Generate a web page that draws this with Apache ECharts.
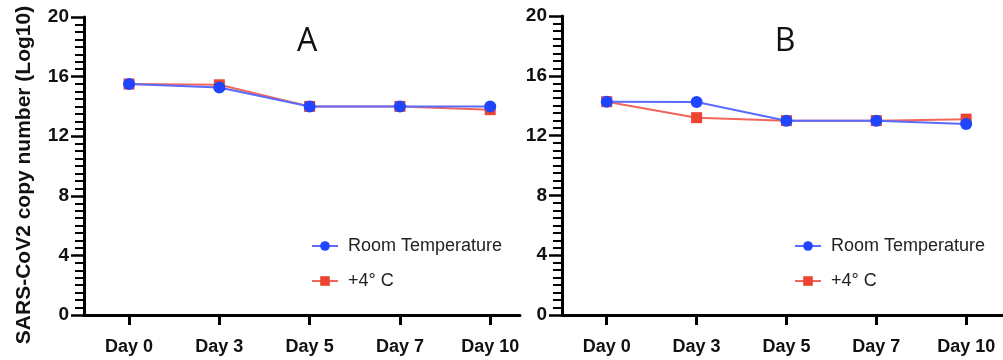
<!DOCTYPE html>
<html>
<head>
<meta charset="utf-8">
<script src="https://cdn.jsdelivr.net/npm/echarts@6/dist/echarts.min.js"></script>
<style>
html,body{margin:0;padding:0;background:#fff;}
#c{width:1003px;height:360px;}
</style>
</head>
<body>
<div id="c"></div>
<script>
const days = ['Day 0', 'Day 3', 'Day 5', 'Day 7', 'Day 10'];
const yTicks = [0, 4, 8, 12, 16, 20];
const roomA = [15.5, 15.27, 14.0, 14.0, 14.0];
const coldA = [15.5, 15.45, 14.0, 14.0, 13.78];
const roomB = [14.27, 14.25, 13.0, 13.0, 12.78];
const coldB = [14.27, 13.2, 13.0, 13.0, 13.1];
const panelTitles = ['A', 'B'];
const yTitle = 'SARS-CoV2 copy number (Log10)';
const legendNames = ['Room Temperature', '+4° C'];

const BLUE = '#1f45ff', BLUE_LINE = '#5a6bff';
const RED = '#ec4430', RED_LINE = '#f2665a';
const FONT = 'Liberation Sans, Arial, sans-serif';

function pts(arr) { return arr.map((v, i) => [i, v]); }

function xAxis(gi, min, max) {
  return {
    gridIndex: gi, type: 'value', min: min, max: max,
    splitLine: { show: false },
    axisLine: { show: true, lineStyle: { color: '#000', width: 3 } },
    axisTick: { show: true, length: 10, lineStyle: { color: '#000', width: 3 }, customValues: [0, 1, 2, 3, 4] },
    axisLabel: {
      customValues: [0, 1, 2, 3, 4], margin: 23,
      formatter: v => days[Math.round(v)],
      color: '#111', fontSize: 18, fontWeight: 'bold', fontFamily: FONT
    }
  };
}
function yAxis(gi) {
  return {
    gridIndex: gi, type: 'value', min: 0, max: 20, interval: 4,
    splitLine: { show: false },
    axisLine: { show: true, onZero: false, lineStyle: { color: '#000', width: 3 } },
    axisTick: { show: true, length: 13, lineStyle: { color: '#000', width: 2.5 } },
    minorTick: { show: true, splitNumber: 8, length: 9, lineStyle: { color: '#000', width: 2 } },
    axisLabel: {
      margin: 15, color: '#111', fontSize: 19, fontWeight: 'bold', fontFamily: FONT,
      formatter: v => String(yTicks[yTicks.indexOf(v)])
    }
  };
}
function ser(name, gi, data, isRoom) {
  return {
    name: name, type: 'line', xAxisIndex: gi, yAxisIndex: gi,
    data: pts(data),
    symbol: isRoom ? 'circle' : 'rect',
    symbolSize: isRoom ? 12 : 11,
    itemStyle: { color: isRoom ? BLUE : RED },
    lineStyle: { color: isRoom ? BLUE_LINE : RED_LINE, width: 2 },
    z: isRoom ? 3 : 2,
    animation: false
  };
}
function legend(left, top) {
  return {
    data: [legendNames[0], legendNames[1]],
    orient: 'vertical', left: left, top: top,
    itemWidth: 26, itemHeight: 12, itemGap: 17,
    textStyle: { fontSize: 18, color: '#222', fontFamily: FONT, padding: [0, 0, 0, 5] },
    selectedMode: false
  };
}

const chart = echarts.init(document.getElementById('c'));
chart.setOption({
  animation: false,
  backgroundColor: '#fff',
  grid: [
    { left: 84, top: 17, width: 436, height: 298 },
    { left: 562, top: 16, width: 441, height: 299 }
  ],
  xAxis: [xAxis(0, -0.499, 4.33), xAxis(1, -0.498, 4.41)],
  yAxis: [yAxis(0), yAxis(1)],
  legend: [legend(306, 232), legend(789, 232)],
  graphic: [
    { type: 'text', x: 307, y: 42, style: { text: panelTitles[0], fontSize: 32, fontFamily: 'Open Sans, sans-serif', fill: '#111', textAlign: 'center', textVerticalAlign: 'middle' } },
    { type: 'text', x: 785, y: 42, style: { text: panelTitles[1], fontSize: 32, fontFamily: 'Open Sans, sans-serif', fill: '#111', textAlign: 'center', textVerticalAlign: 'middle' } },
    { type: 'text', x: 24, y: 175, rotation: Math.PI / 2, style: { text: yTitle, fontSize: 21, fontWeight: 'bold', fontFamily: FONT, fill: '#111', textAlign: 'center', textVerticalAlign: 'middle' } }
  ],
  series: [
    ser(legendNames[1], 0, coldA, false),
    ser(legendNames[0], 0, roomA, true),
    ser(legendNames[1], 1, coldB, false),
    ser(legendNames[0], 1, roomB, true)
  ]
});
</script>
</body>
</html>
